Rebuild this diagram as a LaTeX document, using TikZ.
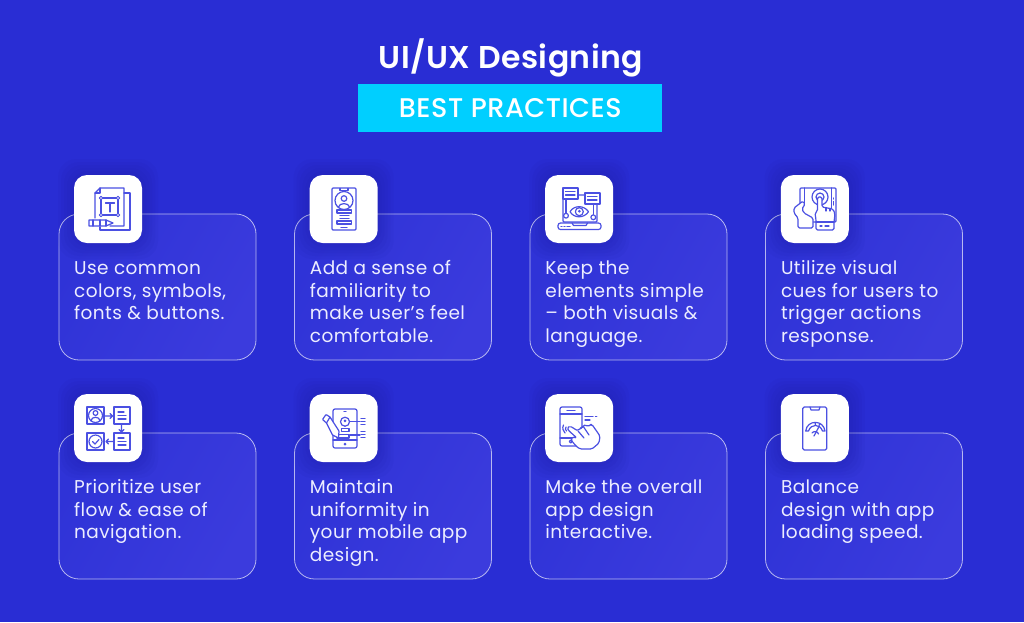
\documentclass[tikz,border=0pt]{standalone}
\usepackage{fontspec}
\setmainfont{Poppins}[LetterSpace=2.3]
\newfontfamily\titlefont{Poppins SemiBold}[LetterSpace=1.5]
\newfontfamily\midfont{Poppins Medium}[LetterSpace=2]
\usetikzlibrary{calc}
\definecolor{bgc}{HTML}{292DD4}
\definecolor{cardA}{HTML}{2F33D7}
\definecolor{cardB}{HTML}{3B3BDD}
\definecolor{ink}{HTML}{4B50E2}
\definecolor{cyanb}{HTML}{00CFFF}
\definecolor{txt}{HTML}{ECEDFF}
\tikzset{
  cardbox/.style={rectangle,rounded corners=20pt,minimum width=197pt,minimum height=146pt,anchor=north west,
    draw=white,draw opacity=.65,line width=.8pt,left color=cardA,right color=cardB,shading angle=60,outer sep=0pt,inner sep=0pt},
  iconbox/.style={rectangle,rounded corners=13pt,minimum width=68pt,minimum height=68pt,anchor=north west,fill=white,outer sep=0pt,inner sep=0pt},
  cardtext/.style={anchor=north west,align=left,inner sep=0pt,text=txt,font=\fontsize{18.5}{22.5}\selectfont},
  ic/.style={draw=ink,line width=1.2pt,line join=round,line cap=round},
  icw/.style={ic,fill=white},
}
\newcommand{\rl}{\rule{0pt}{14pt}}
\newcommand{\cardset}[6]{% name, card x, card y, icon x, icon y, text
  \node[cardbox] (c#1) at (#2,#3) {};
  \foreach \g in {16,13,10,7,4,1}{
    \fill[black!70!blue,opacity=.024,rounded corners=18pt] ($(#4,#5)+(-\g,-\g)$) rectangle ($(#4,#5)+(68+\g,68+\g)$);
  }
  \node[iconbox] (i#1) at (#4,#5) {};
  \node[cardtext] (t#1) at ($(#4,#5)+(0,85.5)$) {\rl #6};
}
\begin{document}
\begin{tikzpicture}[x=1pt,y=-1pt]
\fill[bgc] (0,0) rectangle (1024,622);
\useasboundingbox (0,0) rectangle (1024,622);
% title
\node[inner sep=0pt,text=white,font=\titlefont\fontsize{31.5}{36}\selectfont] (title) at (511,58) {UI/UX Designing};
\node[rectangle,fill=cyanb,draw=none,minimum width=304pt,minimum height=48pt,inner sep=0pt,outer sep=0pt,
  text=white,font=\midfont\fontsize{27}{30}\selectfont] (banner) at (510.3,108) {\raisebox{-1pt}{BEST PRACTICES}};
% cards
\cardset{1}{59}{214}{74}{175}{Use common\\colors, symbols,\\fonts \& buttons.}
\cardset{2}{294.5}{214}{309.7}{175}{Add a sense of\\familiarity to\\make user's feel\\comfortable.}
\cardset{3}{530}{214}{545.2}{175}{Keep the\\elements simple\\– both visuals \&\\language.}
\cardset{4}{765.5}{214}{780.8}{175}{Utilize visual\\cues for users to\\trigger actions\\response.}
\cardset{5}{59}{433}{74}{394}{Prioritize user\\flow \& ease of\\navigation.}
\cardset{6}{294.5}{433}{309.7}{394}{Maintain\\uniformity in\\your mobile app\\design.}
\cardset{7}{530}{433}{545.2}{394}{Make the overall\\app design\\interactive.}
\cardset{8}{765.5}{433}{780.8}{394}{Balance\\design with app\\loading speed.}
% icon 1
\draw[ic] (124,193)--(130,193)--(130,230)--(100,230)--(100,227);
\draw[ic] (95,218)--(95,193)--(100,188)--(124,188)--(124,226)--(110,226);
\draw[ic] (95,193)--(100,193)--(100,188);
\draw[ic] (101,198) rectangle (118,215);
\foreach \p in {(101,198),(118,198),(101,215),(118,215)} \draw[icw,line width=.9pt] \p circle (1.8);
\draw[ic] (105.5,203)--(114.5,203) (110,203)--(110,212);
\draw[icw] (89,220)--(106,220)--(113,223)--(106,226)--(89,226)--cycle;
\draw[ic] (93,220)--(93,226) (100,220)--(100,226) (106,220)--(106,226);
% icon 2
\draw[ic,rounded corners=1pt] (332,188) rectangle (356,230);
\draw[ic] (340,188.5)--(340,190.5)--(348,190.5)--(348,188.5);
\draw[ic] (344,200.5) circle (9);
\draw[ic] (344,198.5) circle (2.8);
\draw[ic] (338.5,207) .. controls (339,202.5) and (349,202.5) .. (349.5,207);
\draw[ic] (337,210) rectangle (351.5,213);
\draw[ic] (340,215.7)--(349,215.7) (340,218.4)--(349,218.4);
\draw[ic] (337,221) rectangle (351.5,224);
\draw[ic] (341,227.5)--(347,227.5);
% icon 3
\draw[ic,rounded corners=1pt] (563,195) -- (563,222) -- (597,222) -- (597,195) -- cycle;
\draw[ic,rounded corners=2.5pt] (558,223)--(558,229.5)--(601,229.5)--(601,223)--cycle;
\draw[ic] (572,223)--(573.5,225.5)--(586,225.5)--(587.5,223);
\draw[ic] (561,226.5)--(562,226.5) (564,226.5)--(565,226.5) (567,226.5)--(570,226.5);
\draw[icw] (563,188) rectangle (578,199);
\draw[ic] (565.5,191.5)--(575,191.5) (565.5,195)--(575,195);
\draw[icw] (585,193) rectangle (600,204);
\draw[ic] (587.5,196.5)--(597,196.5) (587.5,200)--(597,200);
\draw[ic] (566,199)--(566,213) (593.3,204)--(593.3,214.8);
\draw[icw] (566,215.7) circle (2.4);
\draw[icw] (593.3,217.3) circle (2.4);
\draw[ic] (570,211.7) .. controls (574,205) and (584,205) .. (588.5,211.7) .. controls (584,218.5) and (574,218.5) .. (570,211.7) -- cycle;
\draw[ic] (579.3,211.7) circle (4);
\fill[ink] (579.3,211.2) circle (1.5);
% icon 4
\draw[ic,rounded corners=1pt] (800,188) rectangle (836,222);
\draw[ic] (804.5,188)--(804.5,204) (831.5,188)--(831.5,222);
\draw[ic] (833.7,198)--(833.7,199) (833.7,201.5)--(833.7,205);
\draw[ic] (820,197) circle (8);
\draw[ic] (820,197) circle (4);
\draw[icw,rounded corners=1.5pt] (798,228)--(798,218)--(794,213)--(794,208)--(803,201)--(805,204)--(802,209)--(804,213)--(813,218)--(813,228)--cycle;
\draw[icw,rounded corners=1.5pt] (816,230)--(816,220)--(815,213)--(817.5,211)--(817.5,197)--(822,197)--(822,207)--(833,209)--(835,214)--(834,222)--(834,230)--cycle;
\draw[ic] (816,222)--(834,222) (820,226)--(822,226) (825,226)--(829,226);
\draw[ic] (826,207.5)--(826,211) (830,208.5)--(830,211);
% icon 5
\draw[ic] (87,407) rectangle (104,424);
\draw[ic] (95.5,415.5) circle (7);
\draw[ic] (95.5,413) circle (2.4);
\draw[ic] (91,421) .. controls (91,416) and (100,416) .. (100,421);
\draw[ic] (114,407) rectangle (130,424);
\draw[ic] (118,412)--(124,412) (118,415.5)--(126,415.5) (118,419)--(126,419);
\draw[ic] (114,433) rectangle (130,450);
\draw[ic] (118,438)--(124,438) (118,441.5)--(126,441.5) (118,445)--(126,445);
\draw[ic] (87,433) rectangle (104,450);
\draw[ic] (95.5,441.5) circle (6.5);
\draw[ic] (92.5,441.5)--(95,444)--(99,439.5);
\draw[ic] (105,416)--(112.5,416) (110,413.5)--(112.5,416)--(110,418.5);
\draw[ic] (121.5,425)--(121.5,432) (119,429.5)--(121.5,432)--(124,429.5);
\draw[ic] (113,441.5)--(106,441.5) (108.5,439)--(106,441.5)--(108.5,444);
% icon 6
\draw[ic,rounded corners=2pt] (333,409) rectangle (357,448);
\draw[ic] (333,440)--(357,440);
\draw[ic] (344,411.5)--(346,411.5);
\fill[ink] (345,444) circle (1.5);
\draw[ic] (345,421.7) circle (4.5);
\fill[ink] (345,420.8) circle (1.5);
\draw[ic] (341.7,428.3) rectangle (349,431.7);
\draw[ic] (337,434.5) rectangle (349,438);
\draw[ic] (350,421.7)--(360,421.7) (350,435)--(360,435);
\draw[ic] (361,418.5)--(365,418.5) (361,421.7)--(365,421.7) (361,424.5)--(365,424.5);
\draw[ic] (361,431.5)--(365,431.5) (361,434.7)--(365,434.7) (361,437.5)--(365,437.5);
\draw[icw,rounded corners=.6pt] (322.5,419.5)--(326,414.5)--(330,417)--(339,431)--(338.5,438)--(332.5,435)--(326.5,423)--cycle;
\draw[ic] (326.5,423)--(330,417);
% icon 7
\draw[ic,rounded corners=2pt] (560,407) rectangle (582,446);
\draw[ic] (560,414)--(582,414) (560,438)--(574,438);
\draw[ic] (567,410.7)--(575,410.7);
\draw[ic] (570.7,441.5) circle (1.5);
\draw[ic] (585,416.7)--(593,416.7) (595.5,416.7)--(596.7,416.7) (585,420)--(590,420);
\draw[ic] (563.5,425) .. controls (562,428) and (563,431) .. (565,433);
\draw[ic] (566,427) .. controls (565,428.5) and (565.5,430) .. (566.5,431);
\draw[icw,rounded corners=1.6pt] (576,446)--(580,449)--(592,449)--(599,443)--(600,436)--(592,424.5)--(590,424.5)--(588,427)--(586,424.5)--(583,426)--(582,428)--(580,428)--(578,431)--(570,426)--(567,428)--(569,431)--(577,438)--(572,437)--(571,440)--cycle;
\draw[ic] (583,426)--(589,435) (578,431)--(584,438);
% icon 8
\draw[ic,rounded corners=1.5pt] (802.7,407) rectangle (826.7,450);
\draw[ic] (810,407)--(811,410)--(819,410)--(820,407);
\draw[ic] (805.7,431) .. controls (807,419.5) and (823.5,419.5) .. (825,431)--(822.5,431) .. controls (820,423.5) and (811,423.5) .. (808.5,431)--cycle;
\draw[ic] (812,433) .. controls (813,431) and (818,431) .. (818.5,434);
\draw[ic] (814,436)--(818.5,427.5);
\draw[ic] (815,422.5)--(815.5,425) (820,423.5)--(819,425.5);
\end{tikzpicture}
\end{document}
